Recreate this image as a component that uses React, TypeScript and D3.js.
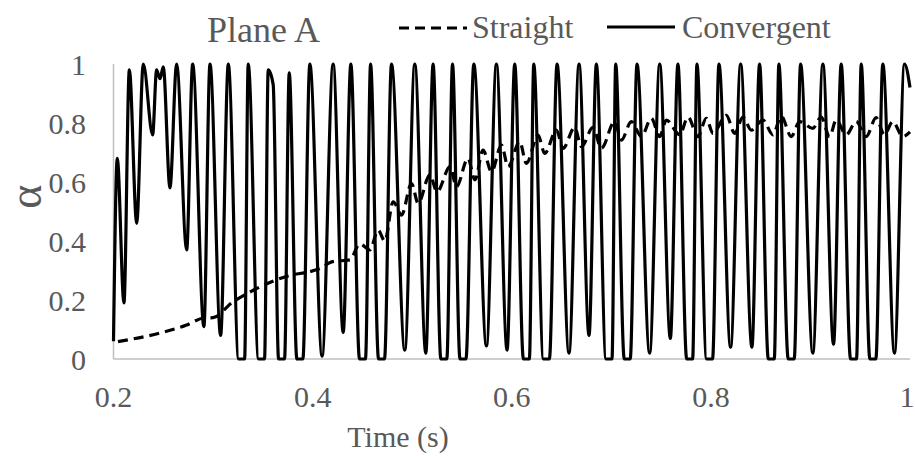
import React from "react";
import * as d3 from "d3";

// ---- data ----
const xTicks = [0.2, 0.4, 0.6, 0.8, 1];
const yTicks = [0, 0.2, 0.4, 0.6, 0.8, 1];
const titleText = "Plane A";
const seriesNames = ["Straight", "Convergent"];
const xTitle = "Time (s)";
const yTitle = "α";

// Convergent: [time, alpha]
const convergent: [number, number][] = [
  [0.2, 0.06], [0.2038, 0.68], [0.2105, 0.19], [0.2159, 0.98], [0.2233, 0.46],
  [0.2299, 1.0], [0.2393, 0.76], [0.2433, 0.98], [0.2467, 0.95], [0.25, 0.99],
  [0.2567, 0.58], [0.2634, 1.0], [0.2735, 0.37], [0.2795, 1.0], [0.2908, 0.11],
  [0.2969, 1.0], [0.3076, 0.08], [0.3153, 1.0], [0.3257, 0], [0.3317, 0],
  [0.3353, 1.0], [0.3457, 0], [0.3517, 0], [0.3554, 0.98], [0.3604, 0.93],
  [0.3658, 0], [0.3718, 0], [0.3765, 0.97], [0.3842, 0], [0.3902, 0],
  [0.3972, 1.0], [0.4095, 0.01], [0.4206, 1.0], [0.4307, 0.09], [0.4384, 1.0],
  [0.4471, 0], [0.4531, 0], [0.4582, 1.0], [0.4662, 0], [0.4722, 0],
  [0.4792, 1.0], [0.4926, 0.03], [0.5026, 1.0], [0.5137, 0.02], [0.521, 1.0],
  [0.5288, 0], [0.5348, 0], [0.5405, 1.0], [0.548, 0], [0.554, 0],
  [0.5619, 1.0], [0.5746, 0.044], [0.5846, 1.0], [0.5953, 0.03], [0.603, 1.0],
  [0.6117, 0], [0.6177, 0], [0.6221, 1.0], [0.6318, 0], [0.6378, 0],
  [0.6455, 1.0], [0.6575, 0.02], [0.6676, 1.0], [0.6776, 0.08], [0.685, 1.0],
  [0.6947, 0], [0.7007, 0], [0.7044, 1.0], [0.713, 0], [0.719, 0],
  [0.7258, 1.0], [0.7385, 0.02], [0.7486, 1.0], [0.7593, 0.07], [0.7669, 1.0],
  [0.7757, 0], [0.7817, 0], [0.786, 1.0], [0.7957, 0], [0.8017, 0],
  [0.8081, 1.0], [0.8198, 0.04], [0.8299, 1.0], [0.8412, 0.04], [0.8489, 1.0],
  [0.8577, 0], [0.8637, 0], [0.8683, 1.0], [0.8777, 0], [0.8837, 0],
  [0.8901, 1.0], [0.9024, 0.02], [0.9125, 1.0], [0.9232, 0.05], [0.9309, 1.0],
  [0.9403, 0], [0.9463, 0], [0.951, 1.0], [0.9597, 0], [0.9657, 0],
  [0.9727, 1.0], [0.9844, 0.02], [0.9945, 1.0], [1.0, 0.92],
];

// Straight: [time, alpha]
const straight: [number, number][] = [
  [0.2045, 0.059], [0.2467, 0.088], [0.2735, 0.115], [0.2908, 0.139], [0.3, 0.14],
  [0.3186, 0.19], [0.3387, 0.23], [0.3588, 0.262], [0.3788, 0.285], [0.396, 0.295],
  [0.4073, 0.307], [0.42, 0.33], [0.4374, 0.336], [0.4474, 0.39], [0.4575, 0.37],
  [0.4658, 0.437], [0.4725, 0.4], [0.4809, 0.533], [0.4893, 0.488], [0.4993, 0.595],
  [0.506, 0.528], [0.5177, 0.624], [0.525, 0.567], [0.538, 0.652], [0.5445, 0.584],
  [0.556, 0.68], [0.563, 0.607], [0.5712, 0.708], [0.5796, 0.635], [0.5897, 0.725],
  [0.5963, 0.652], [0.608, 0.737], [0.6147, 0.663], [0.6264, 0.759], [0.6331, 0.697],
  [0.6449, 0.776], [0.6515, 0.714], [0.6632, 0.785], [0.67, 0.72], [0.6816, 0.785],
  [0.69, 0.714], [0.7034, 0.805], [0.7101, 0.742], [0.7201, 0.805], [0.7302, 0.754],
  [0.7402, 0.816], [0.7486, 0.754], [0.7553, 0.81], [0.7687, 0.76], [0.777, 0.82],
  [0.787, 0.754], [0.7954, 0.816], [0.8021, 0.765], [0.8155, 0.826], [0.8239, 0.765],
  [0.8322, 0.82], [0.8406, 0.776], [0.8523, 0.81], [0.8623, 0.76], [0.8707, 0.823],
  [0.8807, 0.754], [0.8891, 0.805], [0.9024, 0.782], [0.9108, 0.82], [0.9192, 0.754],
  [0.9259, 0.81], [0.9359, 0.76], [0.9459, 0.805], [0.956, 0.754], [0.966, 0.818],
  [0.9743, 0.76], [0.9827, 0.805], [0.9928, 0.754], [1.0, 0.77],
];

const W = 915;
const H = 456;
const FONT = "'Liberation Serif', 'Times New Roman', serif";
const TEXT = "#595959";
const AXIS = "#bfbfbf";

export default function App() {
  const x = d3.scaleLinear().domain([0.2, 1]).range([113.5, 910]);
  const y = d3.scaleLinear().domain([0, 1]).range([359, 64]);
  const line = d3
    .line<[number, number]>()
    .x((d) => x(d[0]))
    .y((d) => y(d[1]))
    .curve(d3.curveMonotoneX);
  const fmt = d3.format("~g");
  const lastX = xTicks[xTicks.length - 1];

  return (
    <div style={{ position: "absolute", left: 0, top: 0, width: W, height: H, background: "#fff" }}>
      <svg width={W} height={H} style={{ display: "block" }} fontFamily={FONT}>
        <rect width={W} height={H} fill="#fff" />
        {/* axes */}
        <line x1={x(0.2)} x2={x(0.2)} y1={y(1)} y2={y(0)} stroke={AXIS} strokeWidth={1.5} />
        <line x1={x(0.2)} x2={x(1)} y1={y(0)} y2={y(0)} stroke={AXIS} strokeWidth={1.5} />
        {/* y tick labels */}
        {yTicks.map((t) => (
          <text key={"y" + t} x={86} y={y(t)} dy="0.35em" textAnchor="end" fontSize={30} fill={TEXT}>
            {fmt(t)}
          </text>
        ))}
        {/* x tick labels */}
        {xTicks.map((t) => (
          <text
            key={"x" + t}
            x={t === lastX ? Math.min(x(t) + 7.5, W - 0.5) : x(t)}
            y={407}
            textAnchor={t === lastX ? "end" : "middle"}
            fontSize={30}
            fill={TEXT}
          >
            {fmt(t)}
          </text>
        ))}
        {/* axis titles */}
        <text x={398} y={447} textAnchor="middle" fontSize={30} fill={TEXT}>
          {xTitle}
        </text>
        <text
          transform={`translate(41,${y(0.55)}) rotate(-90)`}
          textAnchor="middle"
          fontSize={46}
          fill={TEXT}
        >
          {yTitle}
        </text>
        {/* series */}
        <path d={line(straight) || ""} fill="none" stroke="#000" strokeWidth={3.2} strokeDasharray="10 6" />
        <path d={line(convergent) || ""} fill="none" stroke="#000" strokeWidth={3.2} strokeLinejoin="round" />
        {/* title + legend */}
        <text x={207} y={42} fontSize={36} fill={TEXT}>
          {titleText}
        </text>
        <line x1={399} x2={467} y1={28} y2={28} stroke="#000" strokeWidth={3} strokeDasharray="10 6" />
        <text x={472} y={38} fontSize={32} fill={TEXT}>
          {seriesNames[0]}
        </text>
        <line x1={607} x2={675} y1={27} y2={27} stroke="#000" strokeWidth={3} />
        <text x={682} y={38} fontSize={32} fill={TEXT}>
          {seriesNames[1]}
        </text>
      </svg>
    </div>
  );
}
